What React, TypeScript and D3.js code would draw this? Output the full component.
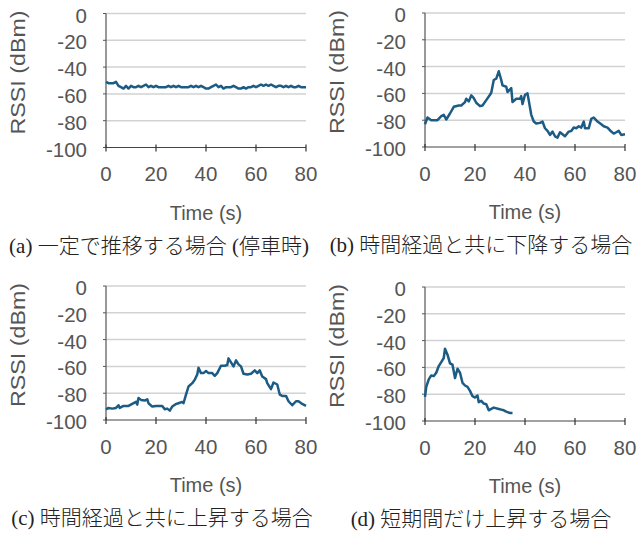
import React from "react";
import * as d3 from "d3";

// ---- data ----
const xTicks = [0, 20, 40, 60, 80];
const yTicks = [0, -20, -40, -60, -80, -100];

// (a) constant, 1 s sampling from t = 0 to 80
const aRssi = [
  -51, -52, -52, -52, -51, -54, -55, -56, -54, -56, -54, -55, -55, -54, -55, -54, -53, -55, -54, -55,
  -54, -55, -55, -55, -55, -54, -55, -54, -55, -54, -55, -55, -55, -55, -54, -55, -54, -55, -54, -55,
  -56, -56, -55, -54, -53, -55, -54, -56, -55, -55, -55, -54, -55, -56, -56, -55, -56, -55, -55, -54,
  -55, -54, -53, -54, -53, -54, -53, -54, -55, -54, -54, -55, -54, -55, -54, -55, -55, -54, -55, -55, -55,
];
const aTime = aRssi.map((_, i) => i);

const bTime = [0, 1, 2.5, 5, 6.5, 7.5, 8.5, 10, 11.5, 13.5, 14.5, 16, 16.5, 17.5, 18.5, 19.5, 20.5, 22, 23, 24.5,
  26, 26.5, 27.5, 28.5, 29.5, 30.5, 31, 32.5, 33, 34.5, 35, 36.5, 38, 38.5, 39, 40, 41, 42.5, 43.5, 44.5,
  46, 47, 48, 49, 50, 51, 52, 53, 54, 55, 56, 57.5, 58.5, 59.5, 60.5, 61.5, 62.5, 63.5, 64, 65.5,
  66.5, 67.5, 69, 70.5, 71.5, 73, 74.5, 75.5, 76.5, 77.5, 78.5, 80];
const bRssi = [-83, -78, -80, -80, -77, -76, -79.5, -75, -70, -69, -69, -66.5, -64, -66, -61.5, -63.5, -67, -69.5, -69, -65,
  -61, -59.5, -50, -49, -43.5, -50, -54, -55, -59, -56, -66.5, -64, -64, -62, -68, -61, -60, -76, -81, -82.5,
  -82, -81, -86, -88, -91, -88.5, -92, -93, -89, -90.5, -92, -88.5, -88, -85.5, -86, -84.5, -85.5, -81, -86, -86,
  -79, -78, -81, -83, -84.5, -85.5, -88.5, -90, -89, -88, -91, -90.5];

const cTime = [0, 1, 2.5, 4, 5, 5.5, 7, 9, 10.5, 12, 12.5, 13, 14, 15.5, 16.5, 17, 18.5, 20, 21, 22.5,
  23.5, 24.5, 25.5, 26.5, 28, 29, 30.5, 31, 32, 33, 34.5, 35.5, 36.5, 37, 38, 39, 40, 41, 42.5, 43.5,
  44.5, 46, 47.5, 48.5, 49, 50, 51, 52, 53, 54, 55, 56.5, 58, 59.5, 60.5, 61.5, 62.5, 64, 64.5, 66,
  67, 68.5, 69.5, 70.5, 72, 73, 74.5, 76, 77, 78.5, 80];
const cRssi = [-92, -91, -91.5, -91, -89, -91, -89.5, -89.5, -88, -86.5, -88.5, -83.5, -85, -85.5, -84.5, -87.5, -90, -89.5, -89.5, -89.5,
  -92, -91.5, -93, -90, -88, -87.5, -86.5, -87.5, -81, -75, -72.5, -70, -66, -61, -65, -65, -63.5, -65, -65, -67,
  -65, -59.5, -59.5, -59, -54, -57, -60, -55.5, -58.5, -60, -65.5, -66, -65.5, -63, -65, -63, -67.5, -69.5, -72.5, -77,
  -72, -73.5, -81, -82, -82, -86, -89, -86, -86, -88, -89.5];

const dTime = [0, 0.5, 1.5, 2.5, 3.5, 4.5, 5.5, 6.5, 7.5, 8, 9, 10, 11, 12, 13, 14, 15, 16, 17, 18,
  19, 20, 21, 21.5, 22.5, 23.5, 24.5, 25.5, 26.5, 27.5, 29.5, 30.5, 31.5, 32.5, 34, 35];
const dRssi = [-82, -74.5, -69, -66, -66.5, -64, -59, -56, -53, -46, -50.5, -57, -58, -68, -61, -64, -71.5, -73.5, -74.5, -77.5,
  -81.5, -82.5, -81, -86, -85, -87, -87.5, -92, -91, -90, -91, -91.5, -92, -93, -94, -94];

const captions = [
  "(a) 一定で推移する場合 (停車時)",
  "(b) 時間経過と共に下降する場合",
  "(c) 時間経過と共に上昇する場合",
  "(d) 短期間だけ上昇する場合",
];

const series = [
  { t: aTime, v: aRssi },
  { t: bTime, v: bRssi },
  { t: cTime, v: cRssi },
  { t: dTime, v: dRssi },
];

// ---- layout ----
const W = 638, H = 539;
const lefts = [106, 425, 106, 425];
const tops = [13.5, 13, 286, 287];
const captionX = [159, 481, 162, 481];
const PW = 200, PH = 134;
const sans = "'Liberation Sans', Arial, Helvetica, sans-serif";
const capFont = "'Liberation Serif', 'Noto Sans CJK JP', serif";
const lineColor = "#1c5c84";
const textGray = "#555";

function Panel({ i }: { i: number }) {
  const L = lefts[i], T = tops[i];
  const x = d3.scaleLinear().domain([0, 80]).range([L, L + PW]);
  const y = d3.scaleLinear().domain([-100, 0]).range([T + PH, T]);
  const s = series[i];
  const pts: [number, number][] = s.t.map((t, k) => [t, s.v[k]]);
  const line = d3.line<[number, number]>().x((d) => x(d[0])).y((d) => y(d[1]));
  const bottom = y(-100);
  return (
    <g>
      {yTicks.filter((v) => v !== -100).map((v) => (
        <line key={"g" + v} x1={x(0)} x2={x(80)} y1={y(v)} y2={y(v)} stroke="#d2d2d2" strokeWidth={1.5} />
      ))}
      {yTicks.map((v) => (
        <line key={"yt" + v} x1={x(0) - 3} x2={x(0)} y1={y(v)} y2={y(v)} stroke="#555" strokeWidth={1} />
      ))}
      <line x1={x(0)} x2={x(0)} y1={y(0)} y2={bottom} stroke="#555" strokeWidth={1.2} />
      <line x1={x(0)} x2={x(80)} y1={bottom} y2={bottom} stroke="#444" strokeWidth={1.2} />
      {xTicks.map((v) => (
        <line key={"xt" + v} x1={x(v)} x2={x(v)} y1={bottom - 3} y2={bottom + 4} stroke="#333" strokeWidth={1.2} />
      ))}
      {yTicks.map((v) => (
        <text key={"yl" + v} x={x(0) - 19} y={y(v) + 1.5} textAnchor="end" dominantBaseline="central"
          fontFamily={sans} fontSize={20.5} fill={textGray}>{v}</text>
      ))}
      {xTicks.map((v) => (
        <text key={"xl" + v} x={x(v)} y={bottom + 26} textAnchor="middle" dominantBaseline="central"
          fontFamily={sans} fontSize={20.5} fill={textGray}>{v}</text>
      ))}
      <text x={(x(0) + x(80)) / 2} y={bottom + 65} textAnchor="middle" dominantBaseline="central"
        fontFamily={sans} fontSize={20} fill={textGray}>Time (s)</text>
      <text transform={`translate(${L - 89},${T + 59}) rotate(-90)`} textAnchor="middle" dominantBaseline="central"
        fontFamily={sans} fontSize={21} fill={textGray} textLength={124} lengthAdjust="spacingAndGlyphs">RSSI (dBm)</text>
      <path d={line(pts) || ""} fill="none" stroke={lineColor} strokeWidth={2.5} strokeLinejoin="round" />
      <text x={captionX[i]} y={bottom + 98} textAnchor="middle" dominantBaseline="central"
        fontFamily={capFont} fontSize={21} fontWeight={300} fill="#222">{captions[i]}</text>
    </g>
  );
}

export default function App() {
  return (
    <svg width={W} height={H} style={{ position: "absolute", left: 0, top: 0, background: "#fff" }}>
      <rect width={W} height={H} fill="#fff" />
      {[0, 1, 2, 3].map((i) => <Panel key={i} i={i} />)}
    </svg>
  );
}
